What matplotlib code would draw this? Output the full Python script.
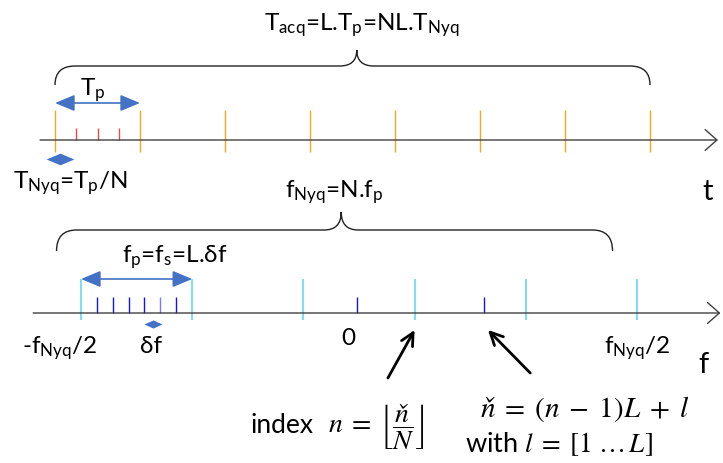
import matplotlib.pyplot as plt
from matplotlib.path import Path
from matplotlib.patches import PathPatch

plt.rcParams['font.family'] = ['Lato', 'DejaVu Sans']
plt.rcParams['mathtext.fontset'] = 'custom'
plt.rcParams['mathtext.rm'] = 'Lato'
plt.rcParams['mathtext.it'] = 'Lato:italic'

# time axis, in units of Tp
period_ticks = [0, 1, 2, 3, 4, 5, 6, 7]
nyq_ticks = [0.25, 0.5, 0.75]
acq_span = [0, 7]

# frequency axis, in units of fp
band_edges = [-2.5, -1.5, -0.5, 0.5, 1.5, 2.5]
bin_ticks = [-2.357, -2.214, -2.071, -1.929, -1.786, -1.643, -0.02, 1.12]
nyq_span = [-2.72, 2.28]

orange = '#F5A623'
red = '#F04848'
cyan = '#5AD3F5'
blue = '#1414E6'
arrow_blue = '#4472C4'
axis_grey = '#404040'
FS = 17.5

fig = plt.figure(figsize=(7.23, 4.63), dpi=100)
# both axes cover the whole picture, y counted in rows from the top
ax_t = fig.add_axes([0, 0, 1, 1])
ax_t.set_xlim(-55 / 85, 668 / 85)
ax_f = fig.add_axes([0, 0, 1, 1])
ax_f.set_xlim(-359 / 111.2, 364 / 111.2)
for ax in (ax_t, ax_f):
    ax.set_ylim(463, 0)
    ax.axis('off')
    ax.patch.set_visible(False)


def brace(ax, x0, x1, xtip, y_end, y_line, y_tip, ppu, r=20, rt=17):
    rx, rtx = r / ppu, rt / ppu
    verts = [(x0, y_end), (x0, y_line), (x0 + rx, y_line),
             (xtip - rtx, y_line), (xtip, y_line), (xtip, y_tip),
             (xtip, y_line), (xtip + rtx, y_line),
             (x1 - rx, y_line), (x1, y_line), (x1, y_end)]
    codes = [Path.MOVETO, Path.CURVE3, Path.CURVE3,
             Path.LINETO, Path.CURVE3, Path.CURVE3,
             Path.CURVE3, Path.CURVE3,
             Path.LINETO, Path.CURVE3, Path.CURVE3]
    ax.add_patch(PathPatch(Path(verts, codes), fill=False, lw=1, ec='#222222'))


def axis_arrow(ax, x0, x1, y):
    ax.annotate('', xy=(x1, y), xytext=(x0, y),
                arrowprops=dict(arrowstyle='->,head_length=0.85,head_width=0.75',
                                lw=1, color=axis_grey, shrinkA=0, shrinkB=0,
                                mutation_scale=10))


def double_arrow(ax, x0, x1, y):
    ax.annotate('', xy=(x1, y), xytext=(x0, y),
                arrowprops=dict(arrowstyle='<|-|>,head_length=1.2,head_width=0.5',
                                lw=1.2, color=arrow_blue, shrinkA=0, shrinkB=0,
                                mutation_scale=10))


diamond = [(-1, 0), (0, 0.42), (1, 0), (0, -0.42), (-1, 0)]
small_diamond = [(-1, 0), (0, 0.45), (1, 0), (0, -0.45), (-1, 0)]

# ---- time axis ----
axis_arrow(ax_t, -0.176, 7.8, 140)
ax_t.vlines(period_ticks, 110, 152, color=orange, lw=1)
ax_t.vlines(nyq_ticks, 128, 140, color=red, lw=1)
double_arrow(ax_t, period_ticks[0], period_ticks[1], 103)
ax_t.plot(0.06, 159, marker=diamond, ms=20, color=arrow_blue, mew=0)
brace(ax_t, acq_span[0], acq_span[1], 3.55, 85, 66, 50, 85)

ax_t.text(3.61, 30, r'T$_\mathregular{acq}$=L.T$_\mathregular{p}$=NL.T$_\mathregular{Nyq}$',
          ha='center', va='baseline', fontsize=FS)
ax_t.text(0.44, 95, r'T$_\mathregular{p}$', ha='center', va='baseline', fontsize=FS)
ax_t.text(0.18, 188, r'T$_\mathregular{Nyq}$=T$_\mathregular{p}$/N', ha='center',
          va='baseline', fontsize=FS)
ax_t.text(7.68, 200, 't', ha='center', va='baseline', fontsize=21)

# ---- frequency axis ----
axis_arrow(ax_f, -2.93, 3.25, 313)
ax_f.vlines(band_edges, 279, 320, color=cyan, lw=1.1)
bin_colors = [blue] * len(bin_ticks)
bin_colors[4] = '#7A7AFF'
ax_f.vlines(bin_ticks, 297, 313, color=bin_colors, lw=1)
double_arrow(ax_f, band_edges[0], band_edges[1], 279)
ax_f.plot(-1.85, 324, marker=small_diamond, ms=13, color=arrow_blue, mew=0)
brace(ax_f, nyq_span[0], nyq_span[1], -0.16, 251, 230, 212, 111.2)

ax_f.text(-0.22, 197, r'f$_\mathregular{Nyq}$=N.f$_\mathregular{p}$', ha='center',
          va='baseline', fontsize=FS)
ax_f.text(-1.66, 262, r'f$_\mathregular{p}$=f$_\mathregular{s}$=L.δf', ha='center',
          va='baseline', fontsize=FS)
ax_f.text(-2.69, 353, r'-f$_\mathregular{Nyq}$/2', ha='center', va='baseline', fontsize=FS)
ax_f.text(-1.87, 353, 'δf', ha='center', va='baseline', fontsize=FS)
ax_f.text(-0.10, 345, '0', ha='center', va='baseline', fontsize=FS)
ax_f.text(2.50, 353, r'f$_\mathregular{Nyq}$/2', ha='center', va='baseline', fontsize=FS)
ax_f.text(3.10, 373, 'f', ha='center', va='baseline', fontsize=21)

# pointers to the index formulas
for tail, head in [((0.26, 378), (0.50, 330)), ((1.54, 373), (1.16, 330))]:
    ax_f.annotate('', xy=head, xytext=tail,
                  arrowprops=dict(arrowstyle='->,head_length=0.9,head_width=0.45',
                                  lw=2, color='black', shrinkA=0, shrinkB=0,
                                  mutation_scale=10))

ax_f.text(-0.98, 433, 'index', ha='left', va='baseline', fontsize=19)
ax_f.text(-0.28, 433, r'$n\;=\;\left\lfloor \dfrac{ň}{N} \right\rfloor$',
          ha='left', va='baseline', fontsize=20, math_fontfamily='stix')
ax_f.text(1.09, 417, r'$ň\;=\;(n\;-\;1)L\;+\;l$', ha='left', va='baseline',
          fontsize=21, math_fontfamily='stix')
ax_f.text(0.95, 452, r'with $l\;=\;[1\ \ldots\,L]$', ha='left', va='baseline',
          fontsize=19.5, math_fontfamily='stix')

fig.savefig('out.png', dpi=100)
